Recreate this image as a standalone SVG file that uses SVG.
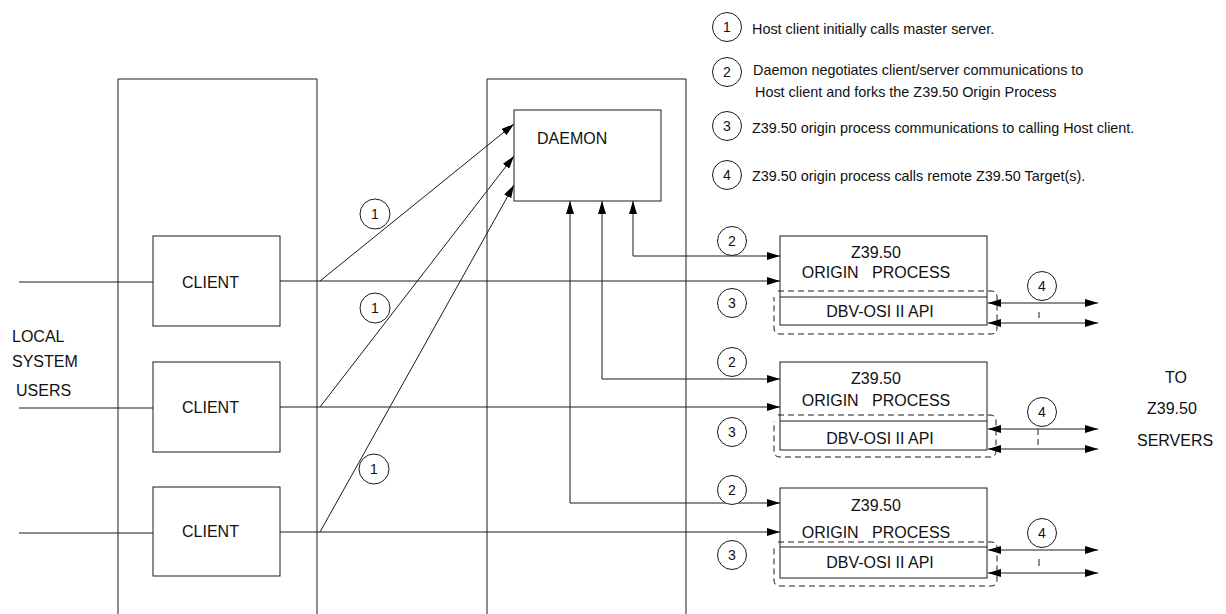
<svg xmlns="http://www.w3.org/2000/svg" width="1226" height="614" viewBox="0 0 1226 614">
<style>
.ln{fill:none;stroke:#1a1a1a;stroke-width:1}
.bx{fill:#fff;stroke:#1a1a1a;stroke-width:1}
.dash{fill:none;stroke:#1a1a1a;stroke-width:1;stroke-dasharray:6,4}
.t{font-family:"Liberation Sans",Arial,sans-serif;font-size:16px;fill:#111}
.lg{font-family:"Liberation Sans",Arial,sans-serif;font-size:14.4px;fill:#111}
.n{font-family:"Liberation Sans",Arial,sans-serif;font-size:14px;fill:#111;text-anchor:middle}
.c{fill:#fff;stroke:#1a1a1a;stroke-width:1}
.m{text-anchor:middle}
</style>
<defs>
<marker id="ah" viewBox="0 0 13 8" refX="13" refY="4" markerWidth="13" markerHeight="8" markerUnits="userSpaceOnUse" orient="auto-start-reverse">
<path d="M0,0 L13,4 L0,8 z" fill="#000"/>
</marker>
</defs>

<g id="legend">
<circle class="c" cx="727" cy="27" r="14.5"/><text class="n" x="727" y="32">1</text>
<text class="lg" x="752" y="34">Host client initially calls master server.</text>
<circle class="c" cx="727" cy="72" r="14.5"/><text class="n" x="727" y="77">2</text>
<text class="lg" x="753" y="75">Daemon negotiates client/server communications to</text>
<text class="lg" x="755" y="97">Host client and forks the Z39.50 Origin Process</text>
<circle class="c" cx="727" cy="126" r="14.5"/><text class="n" x="727" y="131">3</text>
<text class="lg" x="752" y="133">Z39.50 origin process communications to calling Host client.</text>
<circle class="c" cx="727" cy="175" r="14.5"/><text class="n" x="727" y="180">4</text>
<text class="lg" x="752" y="181">Z39.50 origin process calls remote Z39.50 Target(s).</text>
</g>

<g id="host-frame">
<path class="ln" d="M118,614 V79 H317 V614"/>
</g>
<g id="server-frame">
<path class="ln" d="M487,614 V79 H686 V614"/>
</g>

<g id="users-label">
<text class="t" x="12" y="342">LOCAL</text>
<text class="t" x="12" y="367">SYSTEM</text>
<text class="t" x="16" y="396">USERS</text>
</g>

<g id="to-servers-label">
<text class="t" x="1165" y="383">TO</text>
<text class="t" x="1147" y="414">Z39.50</text>
<text class="t" x="1137" y="446">SERVERS</text>
</g>

<g id="connectors">
<line class="ln" x1="19" y1="282" x2="153" y2="282"/>
<line class="ln" x1="19" y1="408" x2="153" y2="408"/>
<line class="ln" x1="19" y1="533" x2="153" y2="533"/>
<line class="ln" x1="280" y1="281" x2="780" y2="281" marker-end="url(#ah)"/>
<line class="ln" x1="280" y1="407" x2="780" y2="407" marker-end="url(#ah)"/>
<line class="ln" x1="280" y1="532" x2="780" y2="532" marker-end="url(#ah)"/>
<line class="ln" x1="320" y1="281" x2="514" y2="124" marker-end="url(#ah)"/>
<line class="ln" x1="320" y1="407" x2="514" y2="156" marker-end="url(#ah)"/>
<line class="ln" x1="320" y1="532" x2="514" y2="185" marker-end="url(#ah)"/>
<path class="ln" d="M633,201 V256 H780" marker-start="url(#ah)" marker-end="url(#ah)"/>
<path class="ln" d="M602,201 V379 H780" marker-start="url(#ah)" marker-end="url(#ah)"/>
<path class="ln" d="M570,201 V503 H780" marker-start="url(#ah)" marker-end="url(#ah)"/>
<line class="ln" x1="988" y1="303" x2="1098" y2="303" marker-start="url(#ah)" marker-end="url(#ah)"/>
<line class="ln" x1="988" y1="323" x2="1098" y2="323" marker-start="url(#ah)" marker-end="url(#ah)"/>
<line class="ln" x1="1039" y1="312" x2="1039" y2="318"/>
<line class="ln" x1="988" y1="429" x2="1098" y2="429" marker-start="url(#ah)" marker-end="url(#ah)"/>
<line class="ln" x1="988" y1="449" x2="1098" y2="449" marker-start="url(#ah)" marker-end="url(#ah)"/>
<line class="dash" x1="1038" y1="429" x2="1038" y2="447"/>
<line class="ln" x1="988" y1="550" x2="1098" y2="550" marker-start="url(#ah)" marker-end="url(#ah)"/>
<line class="ln" x1="988" y1="573" x2="1098" y2="573" marker-start="url(#ah)" marker-end="url(#ah)"/>
<line class="ln" x1="1039" y1="559" x2="1039" y2="566"/>
<circle class="c" cx="375" cy="214" r="15"/><text class="n" x="375" y="219">1</text>
<circle class="c" cx="375" cy="308" r="15"/><text class="n" x="375" y="313">1</text>
<circle class="c" cx="374" cy="469" r="15"/><text class="n" x="374" y="474">1</text>
<circle class="c" cx="732" cy="241" r="14.5"/><text class="n" x="732" y="246">2</text>
<circle class="c" cx="732" cy="303" r="14.5"/><text class="n" x="732" y="308">3</text>
<circle class="c" cx="732" cy="362" r="14.5"/><text class="n" x="732" y="367">2</text>
<circle class="c" cx="732" cy="432" r="14.5"/><text class="n" x="732" y="437">3</text>
<circle class="c" cx="732" cy="490" r="14.5"/><text class="n" x="732" y="495">2</text>
<circle class="c" cx="732" cy="555" r="14.5"/><text class="n" x="732" y="560">3</text>
<circle class="c" cx="1042" cy="286" r="14.5"/><text class="n" x="1042" y="291">4</text>
<circle class="c" cx="1042" cy="412" r="14.5"/><text class="n" x="1042" y="417">4</text>
<circle class="c" cx="1042" cy="533" r="14.5"/><text class="n" x="1042" y="538">4</text>
</g>

<g id="client1">
<rect class="bx" x="153" y="236" width="127" height="90"/>
<text class="t" x="182" y="288">CLIENT</text>
</g>
<g id="client2">
<rect class="bx" x="153" y="362" width="127" height="90"/>
<text class="t" x="182" y="413">CLIENT</text>
</g>
<g id="client3">
<rect class="bx" x="153" y="487" width="127" height="89"/>
<text class="t" x="182" y="537">CLIENT</text>
</g>

<g id="daemon">
<rect class="bx" x="514" y="110" width="147" height="91"/>
<text class="t" x="537" y="144">DAEMON</text>
</g>

<g id="origin1">
<path class="dash" d="M778,291 H991 Q997,291 997,297 V328 Q997,334 991,334 H780 Q774,334 774,328 V297"/>
<rect class="ln" x="780" y="236" width="207" height="89"/>
<line class="ln" x1="780" y1="297" x2="987" y2="297"/>
<text class="t m" x="876" y="258">Z39.50</text>
<text class="t m" x="876" y="278" xml:space="preserve">ORIGIN   PROCESS</text>
<text class="t m" x="880" y="317">DBV-OSI II API</text>
</g>
<g id="origin2">
<path class="dash" d="M778,415 H990 Q996,415 996,421 V451 Q996,457 990,457 H780 Q774,457 774,451 V421"/>
<rect class="ln" x="780" y="362" width="207" height="88"/>
<line class="ln" x1="780" y1="421" x2="987" y2="421"/>
<text class="t m" x="876" y="384">Z39.50</text>
<text class="t m" x="876" y="406" xml:space="preserve">ORIGIN   PROCESS</text>
<text class="t m" x="880" y="444">DBV-OSI II API</text>
</g>
<g id="origin3">
<path class="dash" d="M778,542 H991 Q997,542 997,548 V580 Q997,586 991,586 H780 Q774,586 774,580 V547"/>
<rect class="ln" x="780" y="488" width="207" height="90"/>
<line class="ln" x1="780" y1="547" x2="987" y2="547"/>
<text class="t m" x="876" y="511">Z39.50</text>
<text class="t m" x="876" y="538" xml:space="preserve">ORIGIN   PROCESS</text>
<text class="t m" x="880" y="568">DBV-OSI II API</text>
</g>
</svg>
